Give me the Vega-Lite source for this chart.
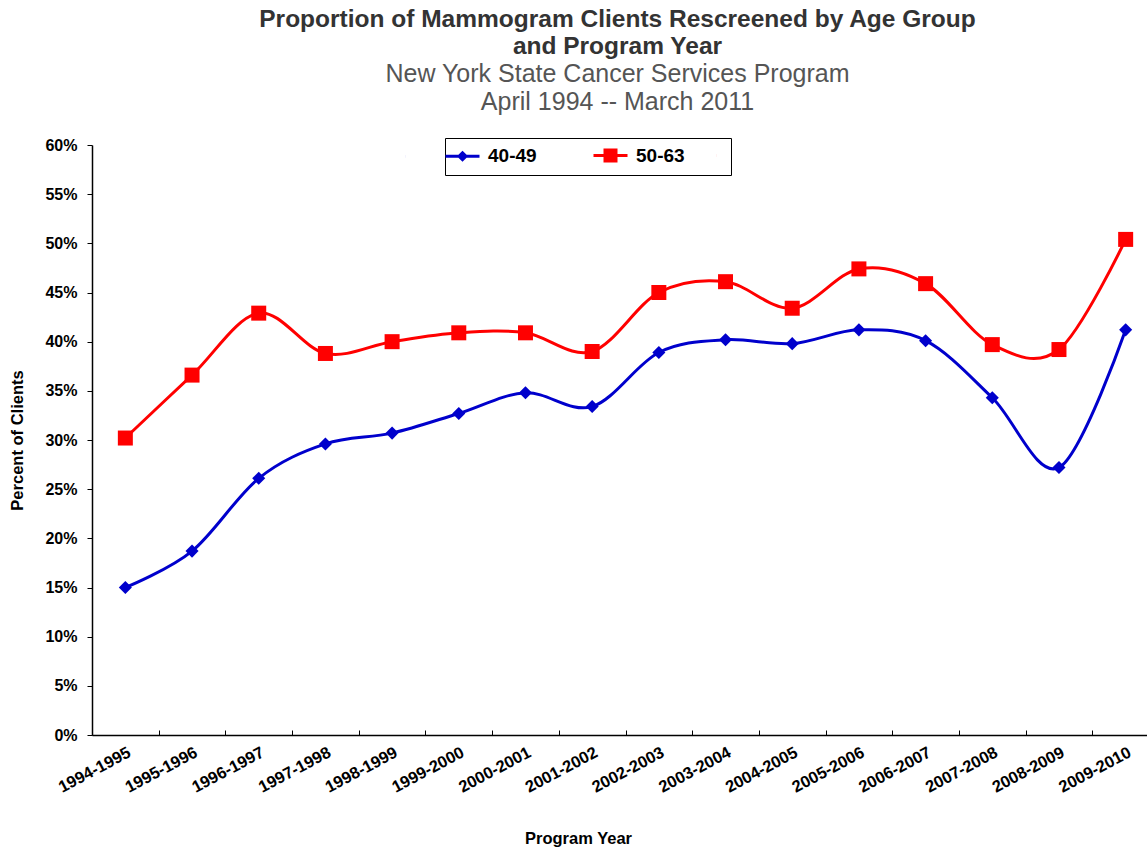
{
  "$schema": "https://vega.github.io/schema/vega-lite/v6.json",
  "width": 1055,
  "height": 590,
  "autosize": {"type": "none"},
  "padding": {"left": 92, "top": 145, "right": 0, "bottom": 117},
  "background": "white",
  "config": {"font": "Liberation Sans", "view": {"stroke": null}},
  "title": {
    "text": ["Proportion of Mammogram Clients Rescreened by Age Group", "and Program Year"],
    "subtitle": ["New York State Cancer Services Program", "April 1994 -- March 2011"],
    "font": "Liberation Sans",
    "fontSize": 24.5,
    "fontWeight": "bold",
    "color": "#333333",
    "subtitleFont": "Liberation Sans",
    "subtitleFontSize": 25,
    "subtitleColor": "#555555",
    "lineHeight": 27,
    "subtitleLineHeight": 28,
    "subtitlePadding": 3,
    "anchor": "middle",
    "frame": "group",
    "offset": 21,
    "dx": -2
  },
  "data": {
    "values": [
      {"year": "1994-1995", "group": "40-49", "value": 15.0},
      {"year": "1995-1996", "group": "40-49", "value": 18.7},
      {"year": "1996-1997", "group": "40-49", "value": 26.1},
      {"year": "1997-1998", "group": "40-49", "value": 29.6},
      {"year": "1998-1999", "group": "40-49", "value": 30.7},
      {"year": "1999-2000", "group": "40-49", "value": 32.7},
      {"year": "2000-2001", "group": "40-49", "value": 34.8},
      {"year": "2001-2002", "group": "40-49", "value": 33.4},
      {"year": "2002-2003", "group": "40-49", "value": 38.9},
      {"year": "2003-2004", "group": "40-49", "value": 40.2},
      {"year": "2004-2005", "group": "40-49", "value": 39.8},
      {"year": "2005-2006", "group": "40-49", "value": 41.2},
      {"year": "2006-2007", "group": "40-49", "value": 40.1},
      {"year": "2007-2008", "group": "40-49", "value": 34.3},
      {"year": "2008-2009", "group": "40-49", "value": 27.2},
      {"year": "2009-2010", "group": "40-49", "value": 41.2},
      {"year": "1994-1995", "group": "50-63", "value": 30.2},
      {"year": "1995-1996", "group": "50-63", "value": 36.6},
      {"year": "1996-1997", "group": "50-63", "value": 42.9},
      {"year": "1997-1998", "group": "50-63", "value": 38.8},
      {"year": "1998-1999", "group": "50-63", "value": 40.0},
      {"year": "1999-2000", "group": "50-63", "value": 40.9},
      {"year": "2000-2001", "group": "50-63", "value": 40.9},
      {"year": "2001-2002", "group": "50-63", "value": 39.0},
      {"year": "2002-2003", "group": "50-63", "value": 45.0},
      {"year": "2003-2004", "group": "50-63", "value": 46.1},
      {"year": "2004-2005", "group": "50-63", "value": 43.4},
      {"year": "2005-2006", "group": "50-63", "value": 47.4},
      {"year": "2006-2007", "group": "50-63", "value": 45.9},
      {"year": "2007-2008", "group": "50-63", "value": 39.7},
      {"year": "2008-2009", "group": "50-63", "value": 39.2},
      {"year": "2009-2010", "group": "50-63", "value": 50.4}
    ]
  },
  "encoding": {
    "x": {
      "field": "year",
      "type": "ordinal",
      "sort": null,
      "bandPosition": 0.5,
      "scale": {"type": "band", "range": [0, 1067], "paddingInner": 0, "paddingOuter": 0},
      "axis": {
        "title": "Program Year",
        "titleFont": "Liberation Sans",
        "titleFontSize": 16.5,
        "titleFontWeight": "bold",
        "titleColor": "black",
        "titleX": 486,
        "titleY": 95,
        "labelAngle": -28,
        "labelFont": "Liberation Sans",
        "labelFontSize": 16.5,
        "labelFontWeight": "bold",
        "labelColor": "black",
        "labelPadding": 14,
        "labelOverlap": false,
        "tickBand": "extent",
        "tickSize": -5,
        "tickColor": "black",
        "domainColor": "black",
        "domainWidth": 1.5,
        "grid": false
      }
    },
    "y": {
      "field": "value",
      "type": "quantitative",
      "scale": {"domain": [0, 60], "nice": false},
      "axis": {
        "title": "Percent of Clients",
        "titleFont": "Liberation Sans",
        "titleFontSize": 16.5,
        "titleFontWeight": "bold",
        "titleColor": "black",
        "titlePadding": 19,
        "values": [0, 5, 10, 15, 20, 25, 30, 35, 40, 45, 50, 55, 60],
        "labelExpr": "datum.value + '%'",
        "labelFont": "Liberation Sans",
        "labelFontSize": 16,
        "labelFontWeight": "bold",
        "labelColor": "black",
        "labelPadding": 10,
        "tickSize": 5,
        "tickColor": "black",
        "domainColor": "black",
        "domainWidth": 1.5,
        "grid": false
      }
    },
    "color": {
      "field": "group",
      "type": "nominal",
      "scale": {"domain": ["40-49", "50-63"], "range": ["#0000cc", "#ff0000"]},
      "legend": {
        "orient": "none",
        "legendX": 353,
        "legendY": -7,
        "direction": "horizontal",
        "title": null,
        "strokeColor": "black",
        "fillColor": "white",
        "padding": 8,
        "labelFont": "Liberation Sans",
        "labelFontSize": 19,
        "labelFontWeight": "bold",
        "labelColor": "black",
        "labelOffset": 16,
        "columnPadding": 50,
        "symbolSize": 100,
        "symbolOpacity": 1,
        "symbolStrokeWidth": 3
      }
    }
  },
  "layer": [
    {
      "mark": {"type": "line", "interpolate": "cardinal", "strokeWidth": 3}
    },
    {
      "transform": [{"filter": "datum.group === '40-49'"}],
      "mark": {"type": "point", "filled": true, "opacity": 1, "shape": "diamond", "size": 170},
      "encoding": {"color": {"value": "#0000cc"}}
    },
    {
      "transform": [{"filter": "datum.group === '50-63'"}],
      "mark": {"type": "point", "filled": true, "opacity": 1, "shape": "square", "size": 225},
      "encoding": {"color": {"value": "#ff0000"}}
    },
    {
      "mark": {"type": "point", "filled": false, "opacity": 0},
      "encoding": {
        "shape": {
          "field": "group",
          "type": "nominal",
          "scale": {
            "domain": ["40-49", "50-63"],
            "range": [
              "M-11.5,0L-11.49,0M-3.4,0L3.4,0M0,-0.7L0.7,0L0,0.7L-0.7,0ZM0,-0.2L0.2,0L0,0.2L-0.2,0Z",
              "M21.29,0L21.3,0M-3.4,0L3.4,0M-1.1,-1.1L1.1,-1.1L1.1,1.1L-1.1,1.1ZM-0.5,-0.5L0.5,-0.5L0.5,0.5L-0.5,0.5ZM-0.1,-0.1L0.1,-0.1L0.1,0.1L-0.1,0.1Z"
            ]
          }
        }
      }
    }
  ]
}
